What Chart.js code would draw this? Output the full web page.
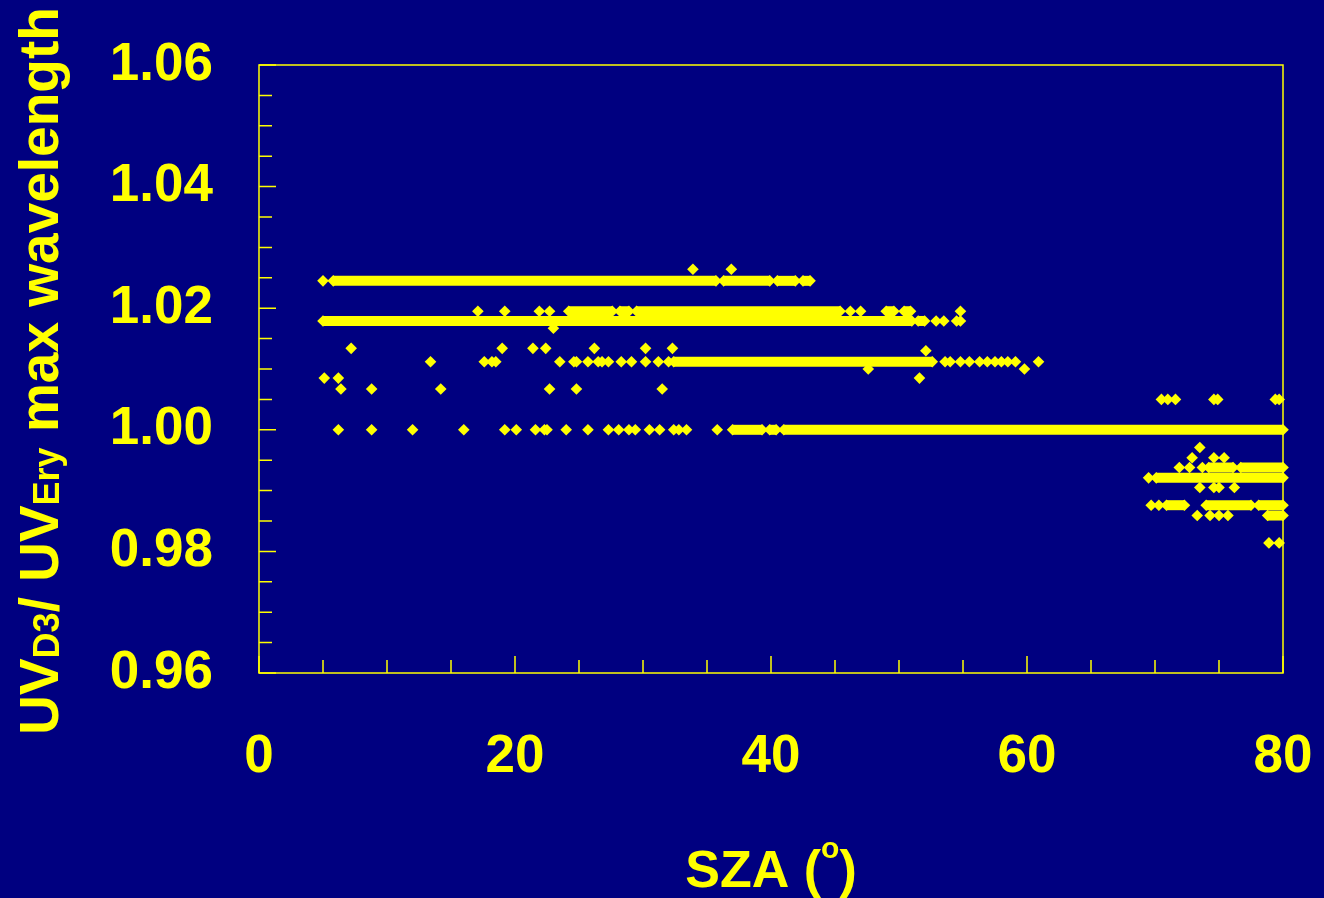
<!DOCTYPE html>
<html>
<head>
<meta charset="utf-8">
<title>UV D3 / UV Ery max wavelength vs SZA</title>
<script src="https://cdn.jsdelivr.net/npm/chart.js@4.4.1/dist/chart.umd.min.js"></script>
<style>
    html, body { margin: 0; padding: 0; background: #000080; }
    #wrap { width: 1324px; height: 898px; }
</style>
</head>
<body>
<div id="wrap"><canvas id="chart" width="1324" height="898"></canvas></div>
<script>
// ---------------- DATA ----------------
// labelled ticks
const xTicks = [0, 20, 40, 60, 80];
const yTicks = [0.96, 0.98, 1.00, 1.02, 1.04, 1.06];

// dense runs of points (read as continuous bands): level -> [fromSza, toSza] runs
const bandLevels = [1.0245, 1.0195, 1.0179, 1.0112, 1.0000, 0.9938, 0.9921, 0.9876, 0.9859];
const bandRuns = [
    [[5.8, 35.7], [36.3, 39.9], [40.5, 41.9], [42.5, 43.05]],
    [[24.2, 27.6], [28.2, 28.9], [29.5, 45.4], [49.0, 49.6], [50.4, 50.9]],
    [[5.0, 51.0], [51.5, 52.0]],
    [[32.4, 52.6]],
    [[37.0, 39.3], [39.9, 40.4], [41.0, 80.0]],
    [[74.2, 76.1], [76.7, 80.0]],
    [[70.1, 80.0]],
    [[70.9, 72.3], [74.0, 77.5], [78.1, 80.0]],
    [[78.8, 80.0]]
];

// isolated points: level -> SZA values
const rowLevels = [1.0264, 1.0245, 1.0195, 1.0179, 1.0167, 1.0134, 1.0130, 1.0112, 1.0100, 1.0085,
    1.0067, 1.0050, 1.0000, 0.9971, 0.9954, 0.9938, 0.9921, 0.9905, 0.9876, 0.9859, 0.9814];
const rowSza = [
    [33.9, 36.9],
    [5.0],
    [17.1, 19.2, 21.9, 22.7, 46.2, 47.0, 54.8],
    [52.9, 53.5, 54.5, 54.8],
    [23.0],
    [7.2, 19.0, 21.4, 22.4, 26.2, 30.2, 32.3],
    [52.1],
    [13.4, 17.6, 18.2, 18.5, 23.5, 24.6, 24.8, 25.7, 26.5, 26.8, 27.3, 28.3, 29.1, 30.2, 31.2, 32.0,
        53.6, 54.0, 54.8, 55.5, 56.3, 56.9, 57.5, 58.0, 58.5, 59.1, 60.9],
    [47.6, 59.8],
    [5.1, 6.2, 51.6],
    [6.4, 8.8, 14.2, 22.7, 24.8, 31.5],
    [70.5, 71.0, 71.6, 74.6, 74.9, 79.4, 79.7],
    [6.2, 8.8, 12.0, 16.0, 19.2, 20.1, 21.6, 22.3, 22.5, 24.0, 25.7, 27.3, 28.1, 28.9, 29.4,
        30.5, 31.3, 32.4, 32.8, 33.4, 35.8],
    [73.5],
    [72.9, 74.6, 75.4],
    [71.9, 72.7, 73.7],
    [69.5],
    [73.5, 74.6, 75.0, 76.2],
    [69.7, 70.3],
    [73.3, 74.3, 75.0, 75.7],
    [78.9, 79.7]
];

// ---------------- STYLE ----------------
const YELLOW = "#ffff00";
const FONT = "'Liberation Sans', Arial, Helvetica, sans-serif";

const xTitleParts = [
    { text: "SZA (", size: 52, dy: 0 },
    { text: "o", size: 30, dy: -29 },
    { text: ")", size: 52, dy: 0 }
];
const yTitleParts = [
    { text: "UV", size: 55, dy: 0 },
    { text: "D3", size: 36, dy: 1 },
    { text: "/ UV", size: 55, dy: 0 },
    { text: "Ery", size: 36, dy: 1 },
    { text: " max wavelength", size: 55, dy: 0 }
];

const isMajorY = v => yTicks.some(t => Math.abs(t - v) < 1e-6);

// label overhang is handled by layout.padding instead
function noOverhang(s) {
    s.paddingLeft = 0;
    s.paddingRight = 0;
    s.paddingTop = 0;
    s.paddingBottom = 0;
}

// ---------------- DATASETS ----------------
const datasets = [];

bandLevels.forEach((level, i) => {
    bandRuns[i].forEach(run => {
        datasets.push({
            data: run.map(x => ({ x, y: level })),
            showLine: true,
            borderColor: YELLOW,
            borderWidth: 10,
            pointStyle: "rectRot",
            pointRadius: 5.8,
            pointBackgroundColor: YELLOW,
            pointBorderWidth: 0,
            clip: false
        });
    });
});

const isolated = [];
rowLevels.forEach((level, i) => {
    rowSza[i].forEach(x => isolated.push({ x, y: level }));
});
datasets.push({
    data: isolated,
    pointStyle: "rectRot",
    pointRadius: 5.8,
    pointBackgroundColor: YELLOW,
    pointBorderWidth: 0,
    clip: false
});

// ---------------- PLUGINS ----------------
// plot frame + inward tick marks
const frame = {
    id: "frame",
    beforeDatasetsDraw(chart) {
        const { ctx, chartArea: a, scales: { x, y } } = chart;
        ctx.save();
        ctx.strokeStyle = YELLOW;
        ctx.lineWidth = 1.5;
        ctx.strokeRect(a.left, a.top, a.right - a.left, a.bottom - a.top);
        ctx.beginPath();
        x.ticks.forEach(t => {
            const px = x.getPixelForValue(t.value);
            const len = xTicks.includes(t.value) ? 17 : 13;
            ctx.moveTo(px, a.bottom);
            ctx.lineTo(px, a.bottom - len);
        });
        y.ticks.forEach(t => {
            const py = y.getPixelForValue(t.value);
            const len = isMajorY(t.value) ? 17 : 13;
            ctx.moveTo(a.left, py);
            ctx.lineTo(a.left + len, py);
        });
        ctx.stroke();
        ctx.restore();
    }
};

function drawRich(ctx, parts, cx, baseY) {
    let total = 0;
    parts.forEach(p => {
        ctx.font = `bold ${p.size}px ${FONT}`;
        p.w = ctx.measureText(p.text).width;
        total += p.w;
    });
    let pos = cx - total / 2;
    parts.forEach(p => {
        ctx.font = `bold ${p.size}px ${FONT}`;
        ctx.fillText(p.text, pos, baseY + p.dy);
        pos += p.w;
    });
}

// axis titles with sub/superscripts
const axisTitles = {
    id: "axisTitles",
    afterDraw(chart) {
        const { ctx, chartArea: a } = chart;
        ctx.save();
        ctx.fillStyle = YELLOW;
        ctx.textAlign = "left";
        ctx.textBaseline = "alphabetic";
        drawRich(ctx, xTitleParts, (a.left + a.right) / 2, 887);

        ctx.translate(58, (a.top + a.bottom) / 2 + 2);
        ctx.rotate(-Math.PI / 2);
        drawRich(ctx, yTitleParts, 0, 0);
        ctx.restore();
    }
};

// ---------------- CHART ----------------
new Chart(document.getElementById("chart"), {
    type: "scatter",
    data: { datasets },
    options: {
        responsive: false,
        animation: false,
        devicePixelRatio: 1,
        events: [],
        layout: { padding: { left: 0, right: 41, top: 65, bottom: 0 } },
        plugins: {
            legend: { display: false },
            tooltip: { enabled: false }
        },
        scales: {
            x: {
                type: "linear",
                min: 0,
                max: 80,
                afterFit(s) { s.height = 225; noOverhang(s); },
                grid: { display: false, drawTicks: false },
                border: { display: false },
                ticks: {
                    stepSize: 5,
                    autoSkip: false,
                    maxRotation: 0,
                    padding: 53,
                    color: YELLOW,
                    font: { family: FONT, size: 53, weight: "bold" },
                    callback: v => xTicks.includes(v) ? String(v) : ""
                }
            },
            y: {
                type: "linear",
                min: 0.96,
                max: 1.06,
                afterFit(s) { s.width = 259; noOverhang(s); },
                grid: { display: false, drawTicks: false },
                border: { display: false },
                ticks: {
                    stepSize: 0.005,
                    autoSkip: false,
                    padding: 46,
                    color: YELLOW,
                    font: { family: FONT, size: 53, weight: "bold" },
                    callback: v => isMajorY(v) ? v.toFixed(2) : ""
                }
            }
        }
    },
    plugins: [frame, axisTitles]
});
</script>
</body>
</html>
